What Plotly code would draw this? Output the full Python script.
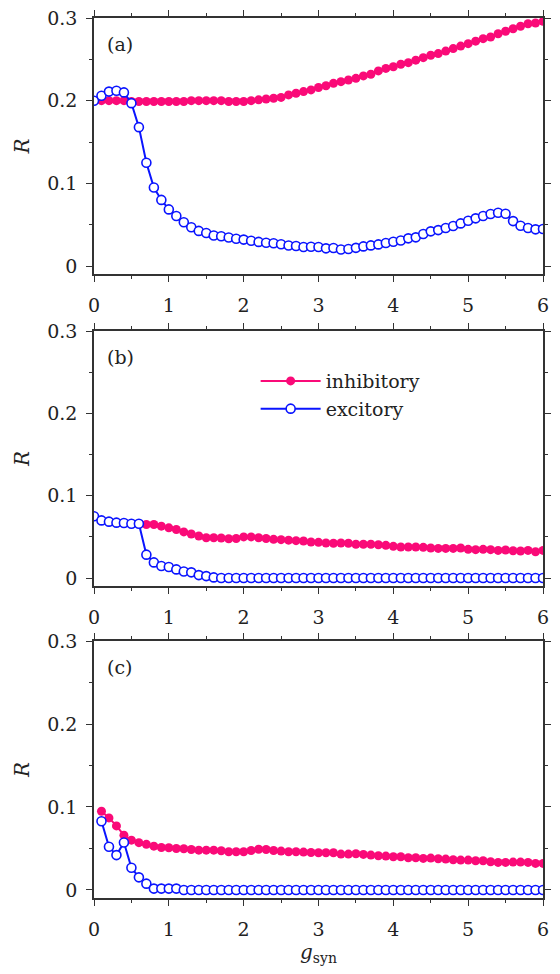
import plotly.graph_objects as go

# g_syn grid (step 0.1)
g_full = [round(0.1 * i, 1) for i in range(61)]

# Panel (a)
inh_a = [0.200, 0.200, 0.200, 0.200, 0.200, 0.199, 0.199, 0.199, 0.199, 0.199,
         0.199, 0.199, 0.199, 0.200, 0.200, 0.200, 0.200, 0.200, 0.199, 0.199,
         0.199, 0.200, 0.201, 0.202, 0.203, 0.204, 0.207, 0.209, 0.211, 0.213,
         0.216, 0.218, 0.221, 0.223, 0.225, 0.227, 0.230, 0.232, 0.236, 0.239,
         0.241, 0.244, 0.246, 0.249, 0.252, 0.255, 0.257, 0.260, 0.263, 0.266,
         0.269, 0.272, 0.275, 0.277, 0.281, 0.284, 0.287, 0.290, 0.293, 0.294,
         0.296]
exc_a = [0.200, 0.206, 0.211, 0.212, 0.210, 0.197, 0.168, 0.125, 0.095, 0.080,
         0.0685, 0.0605, 0.053, 0.047, 0.0425, 0.040, 0.037, 0.036, 0.0345, 0.033,
         0.032, 0.0306, 0.0292, 0.0282, 0.0276, 0.0264, 0.0248, 0.0242, 0.023, 0.0234,
         0.023, 0.0214, 0.0218, 0.020, 0.0206, 0.022, 0.0238, 0.025, 0.0262, 0.0278,
         0.0294, 0.031, 0.0335, 0.0347, 0.0387, 0.042, 0.0435, 0.046, 0.0484, 0.0516,
         0.0548, 0.0577, 0.0605, 0.0629, 0.0645, 0.0633, 0.0544, 0.0488, 0.046, 0.0444,
         0.0448]

# Panel (b)
inh_b = [0.075, 0.070, 0.0685, 0.0673, 0.0669, 0.066, 0.066, 0.065, 0.065, 0.063,
         0.061, 0.059, 0.056, 0.0535, 0.051, 0.049, 0.049, 0.0486, 0.0478, 0.048,
         0.050, 0.050, 0.049, 0.048, 0.047, 0.0466, 0.046, 0.0454, 0.045, 0.0438,
         0.0434, 0.0426, 0.0422, 0.0426, 0.0422, 0.041, 0.041, 0.041, 0.0405, 0.0397,
         0.0385, 0.0377, 0.0377, 0.0377, 0.0373, 0.0365, 0.036, 0.036, 0.036, 0.0365,
         0.0349, 0.0345, 0.0349, 0.0345, 0.0336, 0.034, 0.0332, 0.0328, 0.0336, 0.032,
         0.0336]
exc_b = [0.075, 0.070, 0.0685, 0.0673, 0.0669, 0.066, 0.066, 0.0284, 0.019, 0.0146,
         0.0134, 0.0105, 0.008, 0.0069, 0.0036, 0.0024, 0.0008, 0.0, 0.0, 0.0,
         0.0, 0.0, 0.0, 0.0, 0.0, 0.0, 0.0, 0.0, 0.0, 0.0,
         0.0, 0.0, 0.0, 0.0, 0.0, 0.0, 0.0, 0.0, 0.0, 0.0,
         0.0, 0.0, 0.0, 0.0, 0.0, 0.0, 0.0, 0.0, 0.0, 0.0,
         0.0, 0.0, 0.0, 0.0, 0.0, 0.0, 0.0, 0.0, 0.0, 0.0,
         0.0]

# Panel (c) (starts at g_syn = 0.1)
inh_c = [0.0948, 0.0868, 0.0772, 0.066, 0.060, 0.057, 0.055, 0.0528, 0.0512,
         0.0508, 0.050, 0.0496, 0.0488, 0.048, 0.048, 0.048, 0.0472, 0.046, 0.046,
         0.046, 0.0476, 0.049, 0.0488, 0.0476, 0.0468, 0.046, 0.046, 0.0456, 0.0452,
         0.0448, 0.0448, 0.0448, 0.0432, 0.0432, 0.0436, 0.0428, 0.042, 0.0412, 0.0408,
         0.040, 0.040, 0.0388, 0.0388, 0.038, 0.0384, 0.0376, 0.0372, 0.0364, 0.036,
         0.036, 0.0352, 0.0352, 0.034, 0.0332, 0.0332, 0.0336, 0.0336, 0.0332, 0.032,
         0.032]
exc_c = [0.0828, 0.052, 0.042, 0.0572, 0.0268, 0.0152, 0.0076, 0.0016, 0.0016,
         0.0016, 0.0016, 0.0, 0.0, 0.0, 0.0, 0.0, 0.0, 0.0, 0.0,
         0.0, 0.0, 0.0, 0.0, 0.0, 0.0, 0.0, 0.0, 0.0, 0.0,
         0.0, 0.0, 0.0, 0.0, 0.0, 0.0, 0.0, 0.0, 0.0, 0.0,
         0.0, 0.0, 0.0, 0.0, 0.0, 0.0, 0.0, 0.0, 0.0, 0.0,
         0.0, 0.0, 0.0, 0.0, 0.0, 0.0, 0.0, 0.0, 0.0, 0.0,
         0.0]

panel_labels = ["(a)", "(b)", "(c)"]
x_ticks = [0, 1, 2, 3, 4, 5, 6]
y_ticks = [0, 0.1, 0.2, 0.3]
y_tick_text = ["0", "0.1", "0.2", "0.3"]

PINK = "#fa0a78"
BLUE = "#0a14ff"
FONT = "DejaVu Serif"

panels = [
    (g_full, inh_a, g_full, exc_a),
    (g_full, inh_b, g_full, exc_b),
    (g_full[1:], inh_c, g_full[1:], exc_c),
]
domains = [[0.709, 1.0], [0.3545, 0.6443], [0.0, 0.292]]

fig = go.Figure()
for i, (xi, yi, xe, ye) in enumerate(panels):
    ax = "" if i == 0 else str(i + 1)
    fig.add_trace(go.Scatter(
        x=xi[:len(yi)], y=yi, mode="lines+markers", name="inhibitory",
        line=dict(color=PINK, width=2),
        marker=dict(symbol="circle", size=9, color=PINK),
        xaxis="x" + ax, yaxis="y" + ax, showlegend=(i == 1)))
    fig.add_trace(go.Scatter(
        x=xe[:len(ye)], y=ye, mode="lines+markers", name="excitory",
        line=dict(color=BLUE, width=2),
        marker=dict(symbol="circle", size=9, color="white",
                    line=dict(color=BLUE, width=1.6)),
        xaxis="x" + ax, yaxis="y" + ax, showlegend=(i == 1)))

axis_common = dict(
    showline=True, linecolor="#333", linewidth=1.5, mirror="allticks",
    ticks="outside", ticklen=6, tickwidth=1.2, tickcolor="#333",
    showgrid=False, zeroline=False, automargin=False,
    ticklabeloverflow="allow",
    tickfont=dict(family=FONT, size=19, color="#222"),
)

# page body has an 8px margin; figure sized to fit the 560x974 window
layout = dict(
    width=552, height=958,
    margin=dict(l=86, r=17, t=10, b=68),
    paper_bgcolor="white", plot_bgcolor="white",
    font=dict(family=FONT, size=19, color="#222"),
    legend=dict(x=0.36, y=0.609, xanchor="left", yanchor="top",
                bgcolor="rgba(0,0,0,0)", font=dict(family=FONT, size=19, color="#222"),
                itemwidth=60, tracegroupgap=0),
    annotations=[],
)

for i in range(3):
    ax = "" if i == 0 else str(i + 1)
    xa = dict(axis_common, domain=[0, 1], range=[0, 6], tickvals=x_ticks,
              anchor="y" + ax, ticklabelstandoff=7,
              minor=dict(dtick=0.5, ticks="outside", ticklen=3, tickcolor="#333"))
    ya = dict(axis_common, domain=domains[i], range=[-0.0097, 0.3],
              tickvals=y_ticks, ticktext=y_tick_text, anchor="x" + ax,
              ticklabelstandoff=5,
              minor=dict(dtick=0.05, tick0=0, ticks="outside", ticklen=3, tickcolor="#333"),
              title=dict(text="<i>R</i>", font=dict(family=FONT, size=20, color="#222"),
                         standoff=12))
    if i == 2:
        xa["title"] = dict(text="<i>g</i><sub>syn</sub>",
                           font=dict(family=FONT, size=20, color="#222"), standoff=18)
    layout["xaxis" + ax] = xa
    layout["yaxis" + ax] = ya
    layout["annotations"].append(dict(
        text=panel_labels[i], xref="x" + ax + " domain", yref="y" + ax + " domain",
        x=0.025, y=0.95, xanchor="left", yanchor="top", showarrow=False,
        font=dict(family=FONT, size=19, color="#222")))

fig.update_layout(**layout)
fig.write_html("out.html")
